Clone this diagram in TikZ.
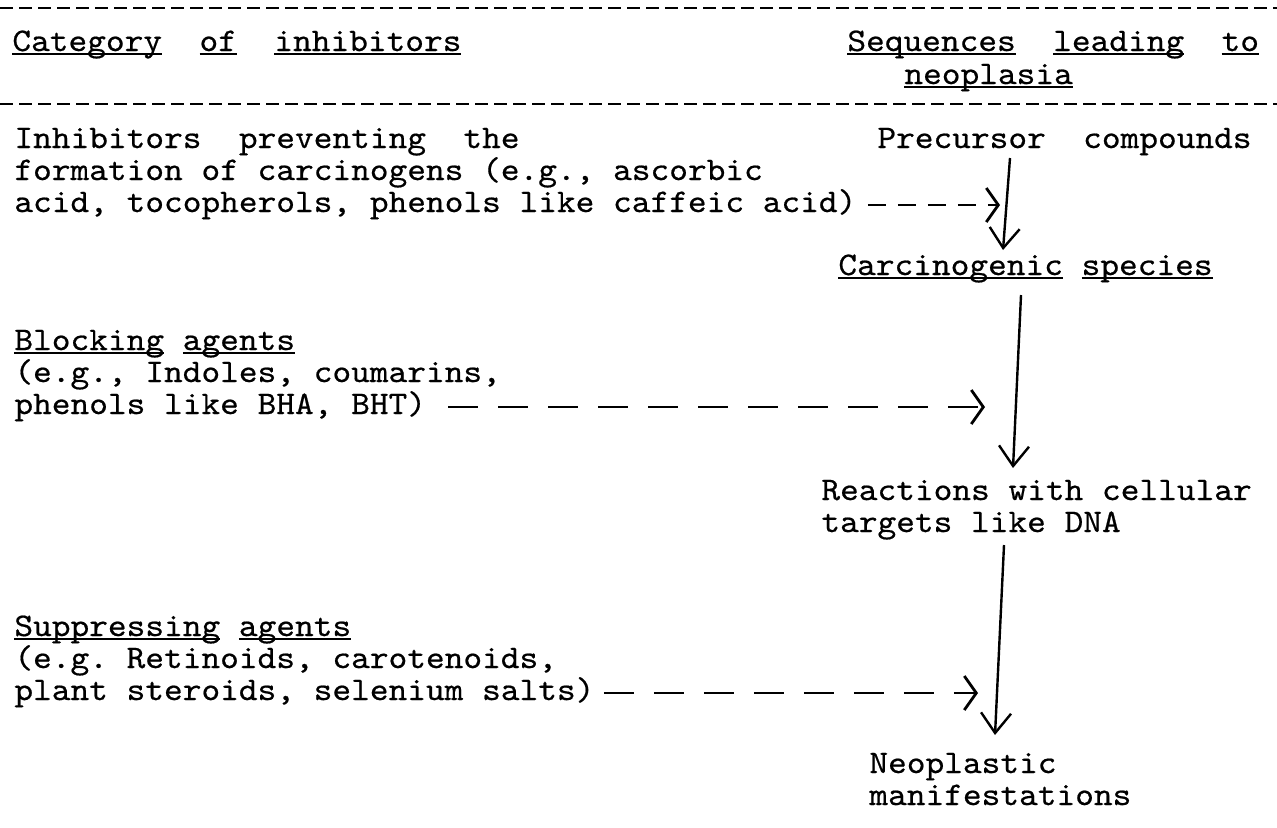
\documentclass[tikz,border=0pt]{standalone}
\usepackage{fontspec}
\setmonofont[FakeStretch=1.08,FakeBold=0.5]{lmmono10-regular.otf}
\usetikzlibrary{arrows.meta}
\usetikzlibrary{calc}

\newcommand{\uw}[1]{\setbox0\hbox{#1}\rlap{\rule[-2.1pt]{\wd0}{0.9pt}}\box0\relax}

\begin{document}
\begin{tikzpicture}[x=0.5pt,y=-0.5pt,
    txt/.style={anchor=base west,inner sep=0pt,font=\ttfamily\fontsize{16.5pt}{16pt}\selectfont\frenchspacing},
    rule/.style={line width=1.3pt,dash pattern=on 6.5pt off 3pt},
    flow/.style={line width=1.2pt,-{Straight Barb[length=10pt,width=15pt]}},
    hint/.style={line width=1.4pt,dash pattern=on 15pt off 10pt,-{Straight Barb[length=6pt,width=17pt]}}]
                \useasboundingbox (0,0) rectangle (1277,827);
                \draw[rule] (0,8) -- (1277,8);
                \node[txt] (cat) at (12,51) {\uw{Category}~~\uw{of}~~\uw{inhibitors}};
                \node[txt] (seq) at (847,51) {\uw{Sequences}~~\uw{leading}~~\uw{to}};
                \node[txt] (neopl) at (904,84) {\uw{neoplasia}};
                \draw[rule] (0,104) -- (1277,104);
                \node[txt] (inh1) at (14,148) {Inhibitors~~preventing~~the};
                \node[txt] (inh2) at (14,180) {formation of carcinogens (e.g., ascorbic};
                \node[txt] (inh3) at (14,212) {acid, tocopherols, phenols like caffeic acid)};
                \node[txt] (prec) at (877,148) {Precursor~~compounds};
                \node[txt] (carc) at (838,275) {\uw{Carcinogenic} \uw{species}};
                \node[txt] (blk1) at (14,350) {\uw{Blocking} \uw{agents}};
                \node[txt] (blk2) at (14,382) {(e.g., Indoles, coumarins,};
                \node[txt] (blk3) at (14,414) {phenols like BHA, BHT)};
                \node[txt] (react1) at (821,500) {Reactions with cellular};
                \node[txt] (react2) at (821,532) {targets like DNA};
                \node[txt] (sup1) at (14,636) {\uw{Suppressing} \uw{agents}};
                \node[txt] (sup2) at (14,668) {(e.g. Retinoids, carotenoids,};
                \node[txt] (sup3) at (14,700) {plant steroids, selenium salts)};
                \node[txt] (neo1) at (869,773) {Neoplastic};
                \node[txt] (neo2) at (869,805) {manifestations};
                \draw[flow] ($(prec.base west)+(133,10)$) -- ($(carc.base west)+(165,-25)$);
                \draw[flow] ($(carc.base west)+(183,20)$) -- ($(react1.base west)+(192,-32)$);
                \draw[flow] ($(react2.base west)+(183,13)$) -- ($(neo1.base west)+(126,-38)$);
                \coordinate (h1) at (1000,205);
                \coordinate (h2) at (985,407);
                \coordinate (h3) at (978,693);
                \draw[hint,dash pattern=on 9pt off 6pt] ($(inh3.base east)+(11,-7)$) -- (h1);
                \draw[hint] ($(blk3.base east)+(22,-7)$) -- (h2);
                \draw[hint] ($(sup3.base east)+(9,-7)$) -- (h3);
            \end{tikzpicture}
\end{document}
